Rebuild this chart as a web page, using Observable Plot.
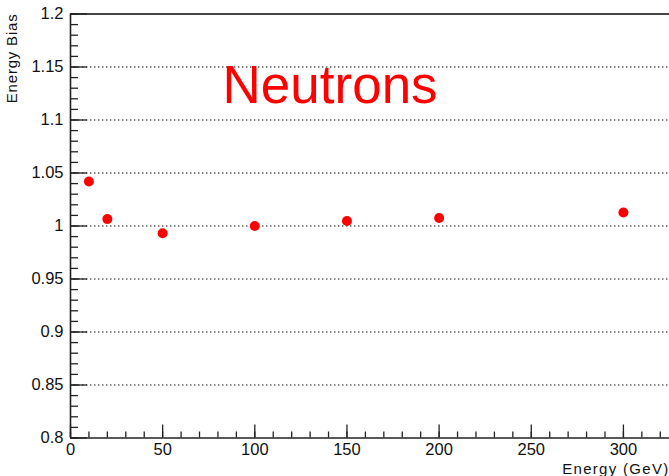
<!DOCTYPE html>
<html>
<head>
<meta charset="utf-8">
<script src="https://cdn.jsdelivr.net/npm/d3@7"></script>
<script src="https://cdn.jsdelivr.net/npm/@observablehq/plot@0.6"></script>
<style>
  html, body { margin: 0; padding: 0; background: #fff; }
  #chart svg { display: block; }
</style>
</head>
<body>
<div id="chart"></div>
<script>
// Data
const energies = [10, 20, 50, 100, 150, 200, 300];
const bias     = [1.042, 1.0065, 0.9932, 1.000, 1.0047, 1.0075, 1.0127];

// Tick values
const xMajorTicks = [0, 50, 100, 150, 200, 250, 300];
const xMinorTicks = d3.range(0, 330, 10);
const yMajorTicks = [0.8, 0.85, 0.9, 0.95, 1.0, 1.05, 1.1, 1.15, 1.2];
const yMinorTicks = d3.range(80, 121, 1).map(d => d / 100);
const yGridLines  = [0.85, 0.9, 0.95, 1.0, 1.05, 1.1, 1.15];

// Texts
const annotation = "Neutrons";
const annotationPos = {x: 82.5, y: 1.1165};
const xTitle = "Energy (GeV)";
const yTitle = "Energy Bias";

const points = energies.map((e, i) => ({energy: e, bias: bias[i]}));

const W = 669, H = 476;
const mL = 70, mR = 0, mT = 13.5, mB = 38.5;
const plotW = W - mL - mR, plotH = H - mT - mB;
const font = "'Liberation Sans', Arial, Helvetica, sans-serif";
const axisColor = "#222";

const chart = Plot.plot({
  width: W,
  height: H,
  marginLeft: mL,
  marginRight: mR,
  marginTop: mT,
  marginBottom: mB,
  style: {fontFamily: font, fontSize: "16px", color: "#111", background: "#fff"},
  x: {domain: [0, 325]},
  y: {domain: [0.8, 1.2]},
  marks: [
    // dotted gridlines
    Plot.ruleY(yGridLines, {stroke: "#000", strokeWidth: 1.2, strokeDasharray: "1.4,2.6"}),
    // frame
    Plot.ruleY([0.8], {stroke: axisColor, strokeWidth: 1.6}),
    Plot.ruleY([1.2], {stroke: "#444", strokeWidth: 2}),
    Plot.ruleX([0], {stroke: axisColor, strokeWidth: 1.6}),
    // x ticks (inward)
    Plot.ruleX(xMinorTicks, {insetTop: plotH - 6, stroke: axisColor, strokeWidth: 1.3}),
    Plot.ruleX(xMajorTicks, {insetTop: plotH - 13, stroke: axisColor, strokeWidth: 1.3}),
    // y ticks (inward)
    Plot.ruleY(yMinorTicks, {insetRight: plotW - 8, stroke: axisColor, strokeWidth: 1.3}),
    Plot.ruleY(yMajorTicks, {insetRight: plotW - 17, stroke: axisColor, strokeWidth: 1.3}),
    // axis labels
    Plot.axisX({ticks: xMajorTicks, tickSize: 0, tickPadding: 5.5, tickFormat: d => String(d), label: null, fontSize: 16.5}),
    Plot.axisY({ticks: yMajorTicks, tickSize: 0, tickPadding: 7, tickFormat: d => String(+d.toFixed(2)), label: null, fontSize: 16.5}),
    // data points
    Plot.dot(points, {x: "energy", y: "bias", r: 5, fill: "#ff0000", stroke: "none"}),
    // annotation
    Plot.text([annotation], {x: () => annotationPos.x, y: () => annotationPos.y, text: d => d,
      textAnchor: "start", lineAnchor: "bottom", fill: "#ff0000", fontSize: 53, fontFamily: font}),
    // axis titles
    Plot.text([xTitle], {frameAnchor: "bottom-right", text: d => d, textAnchor: "end",
      lineAnchor: "bottom", dx: 0, dy: 35.5, fontSize: 15, fill: "#111"}),
    Plot.text([yTitle], {frameAnchor: "top-left", text: d => d, textAnchor: "end",
      lineAnchor: "bottom", rotate: -90, dx: -54, dy: -0.5, fontSize: 15, fill: "#111"})
  ]
});

// widen the title glyph spacing a little, as in the reference
d3.select(chart).selectAll("text").filter(function() {
  return this.textContent === xTitle;
}).style("letter-spacing", "1.3px");
d3.select(chart).selectAll("text").filter(function() {
  return this.textContent === yTitle;
}).style("letter-spacing", "0.8px");

document.getElementById("chart").appendChild(chart);
</script>
</body>
</html>
